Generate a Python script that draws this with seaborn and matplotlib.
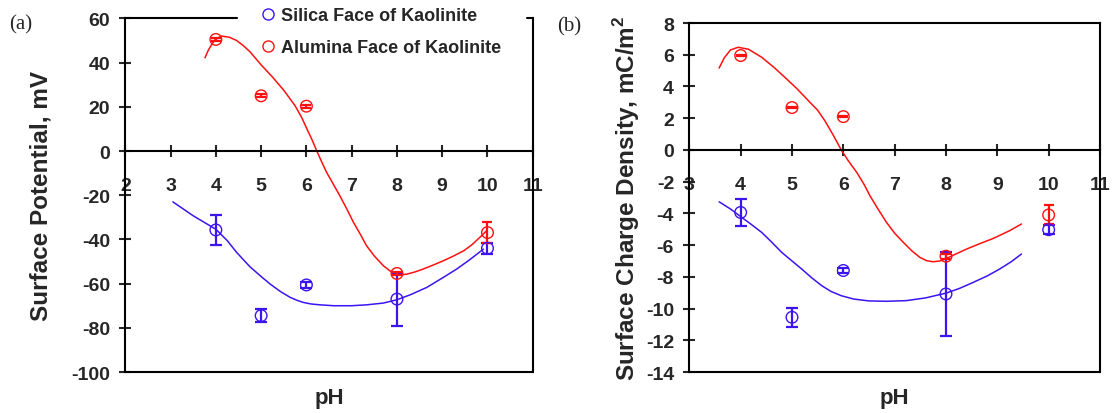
import matplotlib
matplotlib.use('Agg')
import matplotlib.pyplot as plt
import seaborn as sns
from matplotlib.lines import Line2D

# measured points
ph = [4, 5, 6, 8, 10]

# (a) surface potential, mV
silica_pot = [-35.7, -74.5, -60.6, -67.0, -44.0]
silica_pot_err = [6.7, 3.0, 1.2, 12.0, 2.4]
alumina_pot = [50.5, 25.0, 20.3, -55.4, -36.9]
alumina_pot_err = [0.6, 0.6, 0.6, 0.8, 4.6]

# (b) surface charge density, mC/m2
silica_cd = [-3.94, -10.55, -7.6, -9.08, -5.03]
silica_cd_err = [0.83, 0.6, 0.15, 2.65, 0.3]
alumina_cd = [5.95, 2.67, 2.1, -6.7, -4.1]
alumina_cd_err = [0.05, 0.05, 0.05, 0.15, 0.6]

# fitted curves
silica_pot_fit_ph = [3.05, 3.5, 4.0, 4.25, 4.46, 4.75, 5.0, 5.2, 5.42, 5.64, 5.8, 5.93, 6.1, 6.3,
                     6.6, 7.0, 7.33, 7.7, 8.0, 8.3, 8.66, 9.0, 9.32, 9.6, 9.91]
silica_pot_fit = [-23.0, -29.3, -35.4, -40.5, -45.9, -52.3, -56.8, -60.2, -63.5, -66.2, -67.6,
                  -68.5, -69.2, -69.6, -70.0, -70.0, -69.6, -68.8, -67.3, -65.0, -61.7, -57.5,
                  -53.4, -49.3, -44.4]
alumina_pot_fit_ph = [3.76, 3.83, 3.9, 4.0, 4.13, 4.3, 4.46, 4.6, 4.75, 5.0, 5.25, 5.5, 5.75, 5.9,
                      6.0, 6.12, 6.23, 6.34, 6.45, 6.6, 6.74, 6.9, 7.04, 7.2, 7.33, 7.5, 7.7,
                      7.85, 8.0, 8.1, 8.22, 8.4, 8.58, 8.8, 9.02, 9.25, 9.47, 9.65, 9.83, 9.98]
alumina_pot_fit = [42.2, 45.5, 48.0, 50.8, 52.0, 51.5, 50.0, 47.8, 45.0, 39.0, 33.5, 27.5, 20.5,
                   15.0, 10.5, 5.3, 0.0, -5.0, -9.8, -15.2, -20.3, -26.5, -32.3, -38.0, -42.9,
                   -47.5, -51.9, -54.3, -55.7, -56.0, -55.7, -54.7, -53.4, -51.6, -49.7, -47.5,
                   -45.2, -42.5, -39.1, -36.1]

silica_cd_fit_ph = [3.58, 3.8, 4.02, 4.2, 4.41, 4.6, 4.8, 5.0, 5.19, 5.38, 5.58, 5.76, 5.96, 6.2,
                    6.5, 6.85, 7.23, 7.6, 8.01, 8.27, 8.53, 8.8, 9.05, 9.27, 9.47]
silica_cd_fit = [-3.27, -3.72, -4.25, -4.68, -5.2, -5.8, -6.46, -7.0, -7.51, -8.05, -8.56, -8.92,
                 -9.19, -9.4, -9.52, -9.54, -9.5, -9.33, -9.02, -8.72, -8.35, -7.95, -7.5, -7.05,
                 -6.56]
alumina_cd_fit_ph = [3.58, 3.68, 3.8, 3.95, 4.15, 4.41, 4.65, 4.86, 5.1, 5.32, 5.5, 5.64, 5.8,
                     5.96, 6.1, 6.26, 6.4, 6.52, 6.68, 6.84, 7.0, 7.17, 7.33, 7.49, 7.62, 7.75,
                     7.88, 8.01, 8.2, 8.4, 8.65, 8.92, 9.24, 9.47]
alumina_cd_fit = [5.16, 5.8, 6.3, 6.47, 6.35, 5.84, 5.2, 4.58, 3.85, 3.1, 2.5, 1.84, 0.95, 0.0,
                  -0.7, -1.41, -2.15, -2.9, -3.75, -4.56, -5.25, -5.83, -6.35, -6.77, -6.98,
                  -7.05, -7.0, -6.84, -6.55, -6.25, -5.92, -5.58, -5.09, -4.67]

blue = '#3c14f0'
red = '#ff1010'

sns.set_style('white')
plt.rcParams['font.family'] = ['Liberation Sans', 'DejaVu Sans']
plt.rcParams['axes.unicode_minus'] = False
plt.rcParams['mathtext.fontset'] = 'custom'
plt.rcParams['mathtext.bf'] = 'Liberation Sans:bold'

fig = plt.figure(figsize=(11.12, 4.14), dpi=100)
ax1 = fig.add_axes([0.1127, 0.099, 0.3664, 0.854])
ax2 = fig.add_axes([0.6199, 0.099, 0.3693, 0.843])


def draw_panel(ax, s_y, s_err, a_y, a_err, s_fx, s_fy, a_fx, a_fy, xlim, ylim, ystep):
    sns.lineplot(x=s_fx, y=s_fy, ax=ax, color=blue, lw=1.1, sort=False)
    sns.lineplot(x=a_fx, y=a_fy, ax=ax, color=red, lw=1.1, sort=False)
    ax.errorbar(ph, s_y, yerr=s_err, fmt='none', ecolor=blue, elinewidth=1.6, capsize=4, capthick=1.6)
    ax.errorbar(ph, a_y, yerr=a_err, fmt='none', ecolor=red, elinewidth=1.6, capsize=3.5, capthick=1.6)
    sns.scatterplot(x=ph, y=s_y, ax=ax, marker='o', s=70, fc='none', ec=blue, linewidth=1.0, zorder=4)
    sns.scatterplot(x=ph, y=a_y, ax=ax, marker='o', s=70, fc='none', ec=red, linewidth=1.0, zorder=4)

    ax.set_xlim(*xlim)
    ax.set_ylim(*ylim)
    ax.set_xticks(range(xlim[0], xlim[1] + 1))
    ax.set_yticks(range(ylim[0], ylim[1] + 1, ystep))
    ax.spines['bottom'].set_position(('data', 0))
    for sp in ax.spines.values():
        sp.set_linewidth(1.5)
        sp.set_color('black')
    ax.plot([0, 1], [0, 0], transform=ax.transAxes, color='black', lw=1.5, clip_on=False)
    ax.tick_params(axis='x', direction='inout', length=9, width=1.5, pad=14,
                   labelsize=14, bottom=True)
    ax.tick_params(axis='y', direction='inout', length=8, width=1.5, pad=7,
                   labelsize=14, left=True)
    for lab in ax.get_xticklabels() + ax.get_yticklabels():
        lab.set_fontweight('bold')
    ax.set_xlabel('pH', fontsize=16, fontweight='bold')
    ax.set_facecolor('white')


draw_panel(ax1, silica_pot, silica_pot_err, alumina_pot, alumina_pot_err,
           silica_pot_fit_ph, silica_pot_fit, alumina_pot_fit_ph, alumina_pot_fit,
           (2, 11), (-100, 60), 20)
draw_panel(ax2, silica_cd, silica_cd_err, alumina_cd, alumina_cd_err,
           silica_cd_fit_ph, silica_cd_fit, alumina_cd_fit_ph, alumina_cd_fit,
           (3, 11), (-14, 8), 2)

ax1.set_ylabel('Surface Potential, mV', fontsize=17.5, fontweight='bold')
ax2.set_ylabel(r'Surface Charge Density, mC/m$^{\mathbf{2}}$', fontsize=17.5, fontweight='bold')
ax1.yaxis.set_label_coords(-0.178, 0.5)
ax2.yaxis.set_label_coords(-0.115, 0.5)
ax1.xaxis.set_label_coords(0.5, -0.042)
ax2.xaxis.set_label_coords(0.5, -0.043)

# top frame of (a) is hidden behind the legend
ax1.spines['top'].set_visible(False)
ax1.plot([0, 0.274], [1, 1], transform=ax1.transAxes, color='black', lw=1.5, clip_on=False)
ax1.plot([0.985, 1], [1, 1], transform=ax1.transAxes, color='black', lw=1.5, clip_on=False)

handles = [Line2D([], [], ls='none', marker='o', ms=8, mfc='none', mec=blue, mew=1.0),
           Line2D([], [], ls='none', marker='o', ms=8, mfc='none', mec=red, mew=1.0)]
labels = ['Silica Face of Kaolinite', 'Alumina Face of Kaolinite']
leg = ax1.legend(handles, labels, loc='upper left', bbox_to_anchor=(261 / 1112, 1 - 8 / 414),
                 bbox_transform=fig.transFigure, frameon=False, handlelength=0.8,
                 handletextpad=0.3, labelspacing=0.85, borderpad=0, borderaxespad=0,
                 prop={'weight': 'bold', 'size': 13})

fig.text(0.008, 0.964, '(a)', family='Liberation Serif', fontsize=15, va='top')
fig.text(0.501, 0.959, '(b)', family='Liberation Serif', fontsize=15, va='top')

fig.savefig('out.png', dpi=100)
